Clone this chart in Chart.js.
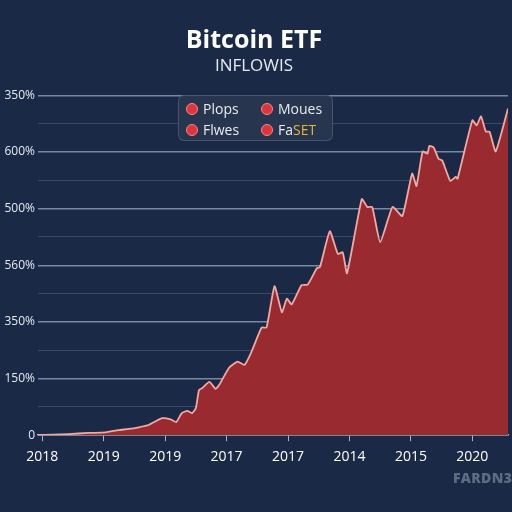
<!DOCTYPE html>
<html>
<head>
<meta charset="utf-8">
<script src="https://cdn.jsdelivr.net/npm/chart.js@4"></script>
<style>
  html, body { margin: 0; padding: 0; background: #1a2946; }
  #wrap { position: relative; width: 512px; height: 512px; }
  #legendBox {
    position: absolute; left: 178px; top: 95px; width: 155px; height: 46px;
    background: rgba(40, 54, 80, 0.95); border: 1px solid rgba(90, 105, 130, 0.6);
    border-radius: 6px; box-sizing: border-box;
    font-family: "Open Sans", sans-serif; font-size: 14px; color: #e8ecf2;
  }
  .item { position: absolute; white-space: nowrap; line-height: 16px; }
  .dot {
    display: inline-block; width: 10px; height: 10px; border-radius: 50%;
    background: #e0343c; border: 1px solid #f28a8a; margin-right: 5px; vertical-align: -1px;
  }
  .gold { color: #e8b830; }
  #mark {
    position: absolute; left: 453px; top: 468px; font-family: "Open Sans", sans-serif;
    font-weight: 800; font-size: 14px; color: #5e6c82; letter-spacing: 0.3px;
  }
</style>
</head>
<body>
<div id="wrap">
  <canvas id="chart" width="512" height="512"></canvas>
  <div id="legendBox"></div>
  <div id="mark">FARDN3</div>
</div>
<script>
/* ---------------------------------------------------
   data
----------------------------------------------------- */
var xTickLabels = ["2018", "2019", "2019", "2017", "2017", "2014", "2015", "2020"];
var yTickLabels = {0: "0", 100: "150%", 200: "350%", 300: "560%", 400: "500%", 500: "600%", 600: "350%"};
var legendNames = ["Plops", "Moues", "Flwes", "FaSET"];

var flowX = [-0.07, 0.43, 0.75, 1.03, 1.24, 1.41, 1.57, 1.73, 1.85, 1.95, 2.09, 2.18, 2.27, 2.36, 2.44,
             2.50, 2.55, 2.60, 2.72, 2.82, 2.88, 3.04, 3.18, 3.29, 3.40, 3.57, 3.65, 3.78, 3.90, 3.98,
             4.06, 4.22, 4.32, 4.47, 4.52, 4.68, 4.81, 4.89, 4.96, 5.20, 5.29, 5.37, 5.50, 5.70, 5.86,
             6.02, 6.09, 6.19, 6.27, 6.30, 6.37, 6.45, 6.51, 6.64, 6.73, 6.76, 7.00, 7.07, 7.14, 7.22,
             7.28, 7.38, 7.58];
var flowY = [0, 2, 4, 5, 9, 11, 14, 18, 25, 30, 28, 23, 39, 43, 39,
             48, 80, 83, 94, 82, 89, 119, 130, 124, 146, 190, 190, 263, 217, 241,
             231, 265, 266, 295, 297, 360, 320, 323, 286, 417, 403, 403, 341, 403, 387,
             462, 440, 501, 497, 511, 508, 488, 485, 449, 456, 453, 556, 547, 563, 536,
             536, 501, 577];

/* ---------------------------------------------------
   legend
----------------------------------------------------- */
function initLegend()
{
    var box = document.getElementById('legendBox');
    var pos = [[7, 5], [82, 5], [7, 26], [82, 26]];
    for (var i = 0; i < legendNames.length; i++) {
        var el = document.createElement("DIV");
        el.className = "item";
        el.style.left = pos[i][0] + "px";
        el.style.top = pos[i][1] + "px";
        var name = legendNames[i];
        if (name === "FaSET") {
            el.innerHTML = "<span class=\"dot\"></span>Fa<span class=\"gold\">SET</span>";
        } else {
            el.innerHTML = "<span class=\"dot\"></span>" + name;
        }
        box.appendChild(el);
    }
}

/* ---------------------------------------------------
   chart
----------------------------------------------------- */
function createChart()
{
    var points = [];
    for (var i = 0; i < flowX.length; i++) {
        points.push({x: flowX[i], y: flowY[i]});
    }
    var ctx = document.getElementById("chart").getContext('2d');
    new Chart(ctx, {
        type: 'line',
        data: {
            datasets: [{
                data: points,
                borderColor: "#f2a9a2",
                borderWidth: 1.8,
                backgroundColor: "#992a2f",
                fill: 'origin',
                pointRadius: 0,
                tension: 0.15
            }]
        },
        options: {
            responsive: false,
            animation: false,
            layout: { padding: { right: 4, bottom: 40 } },
            plugins: {
                legend: { display: false },
                tooltip: { enabled: false },
                title: {
                    display: true,
                    text: "Bitcoin ETF",
                    color: "#ffffff",
                    font: { family: "Open Sans", size: 25, weight: 'bold' },
                    padding: { top: 26, bottom: 0 }
                },
                subtitle: {
                    display: true,
                    text: "INFLOWIS",
                    color: "#e6eaf0",
                    font: { family: "Open Sans", size: 17 },
                    padding: { top: 0, bottom: 19 }
                }
            },
            scales: {
                x: {
                    type: 'linear',
                    min: -0.07,
                    max: 7.58,
                    afterBuildTicks: function (scale) {
                        scale.ticks = xTickLabels.map(function (l, i) { return {value: i}; });
                    },
                    ticks: {
                        color: "#ffffff",
                        font: { family: "Open Sans", size: 14 },
                        padding: 7,
                        maxRotation: 0,
                        callback: function (v) { return xTickLabels[v]; }
                    },
                    grid: { drawOnChartArea: false, drawTicks: true, tickLength: 6, color: "#aab4c6" },
                    border: { color: "#aab4c6", width: 1.5 }
                },
                y: {
                    min: 0,
                    max: 600,
                    afterFit: function (scale) { scale.width = 38; },
                    ticks: {
                        stepSize: 50,
                        color: "#e6eaf0",
                        font: { family: "Open Sans", size: 12 },
                        padding: 3,
                        callback: function (v) { return yTickLabels[v] !== undefined ? yTickLabels[v] : ""; }
                    },
                    grid: {
                        drawTicks: false,
                        color: function (c) {
                            return c.tick.value % 100 === 0 ? "rgba(150,168,196,0.75)" : "rgba(120,138,168,0.35)";
                        },
                        lineWidth: function (c) { return c.tick.value % 100 === 0 ? 1.5 : 1; }
                    },
                    border: { display: false }
                }
            }
        }
    });
}

initLegend();
createChart();
</script>
</body>
</html>
